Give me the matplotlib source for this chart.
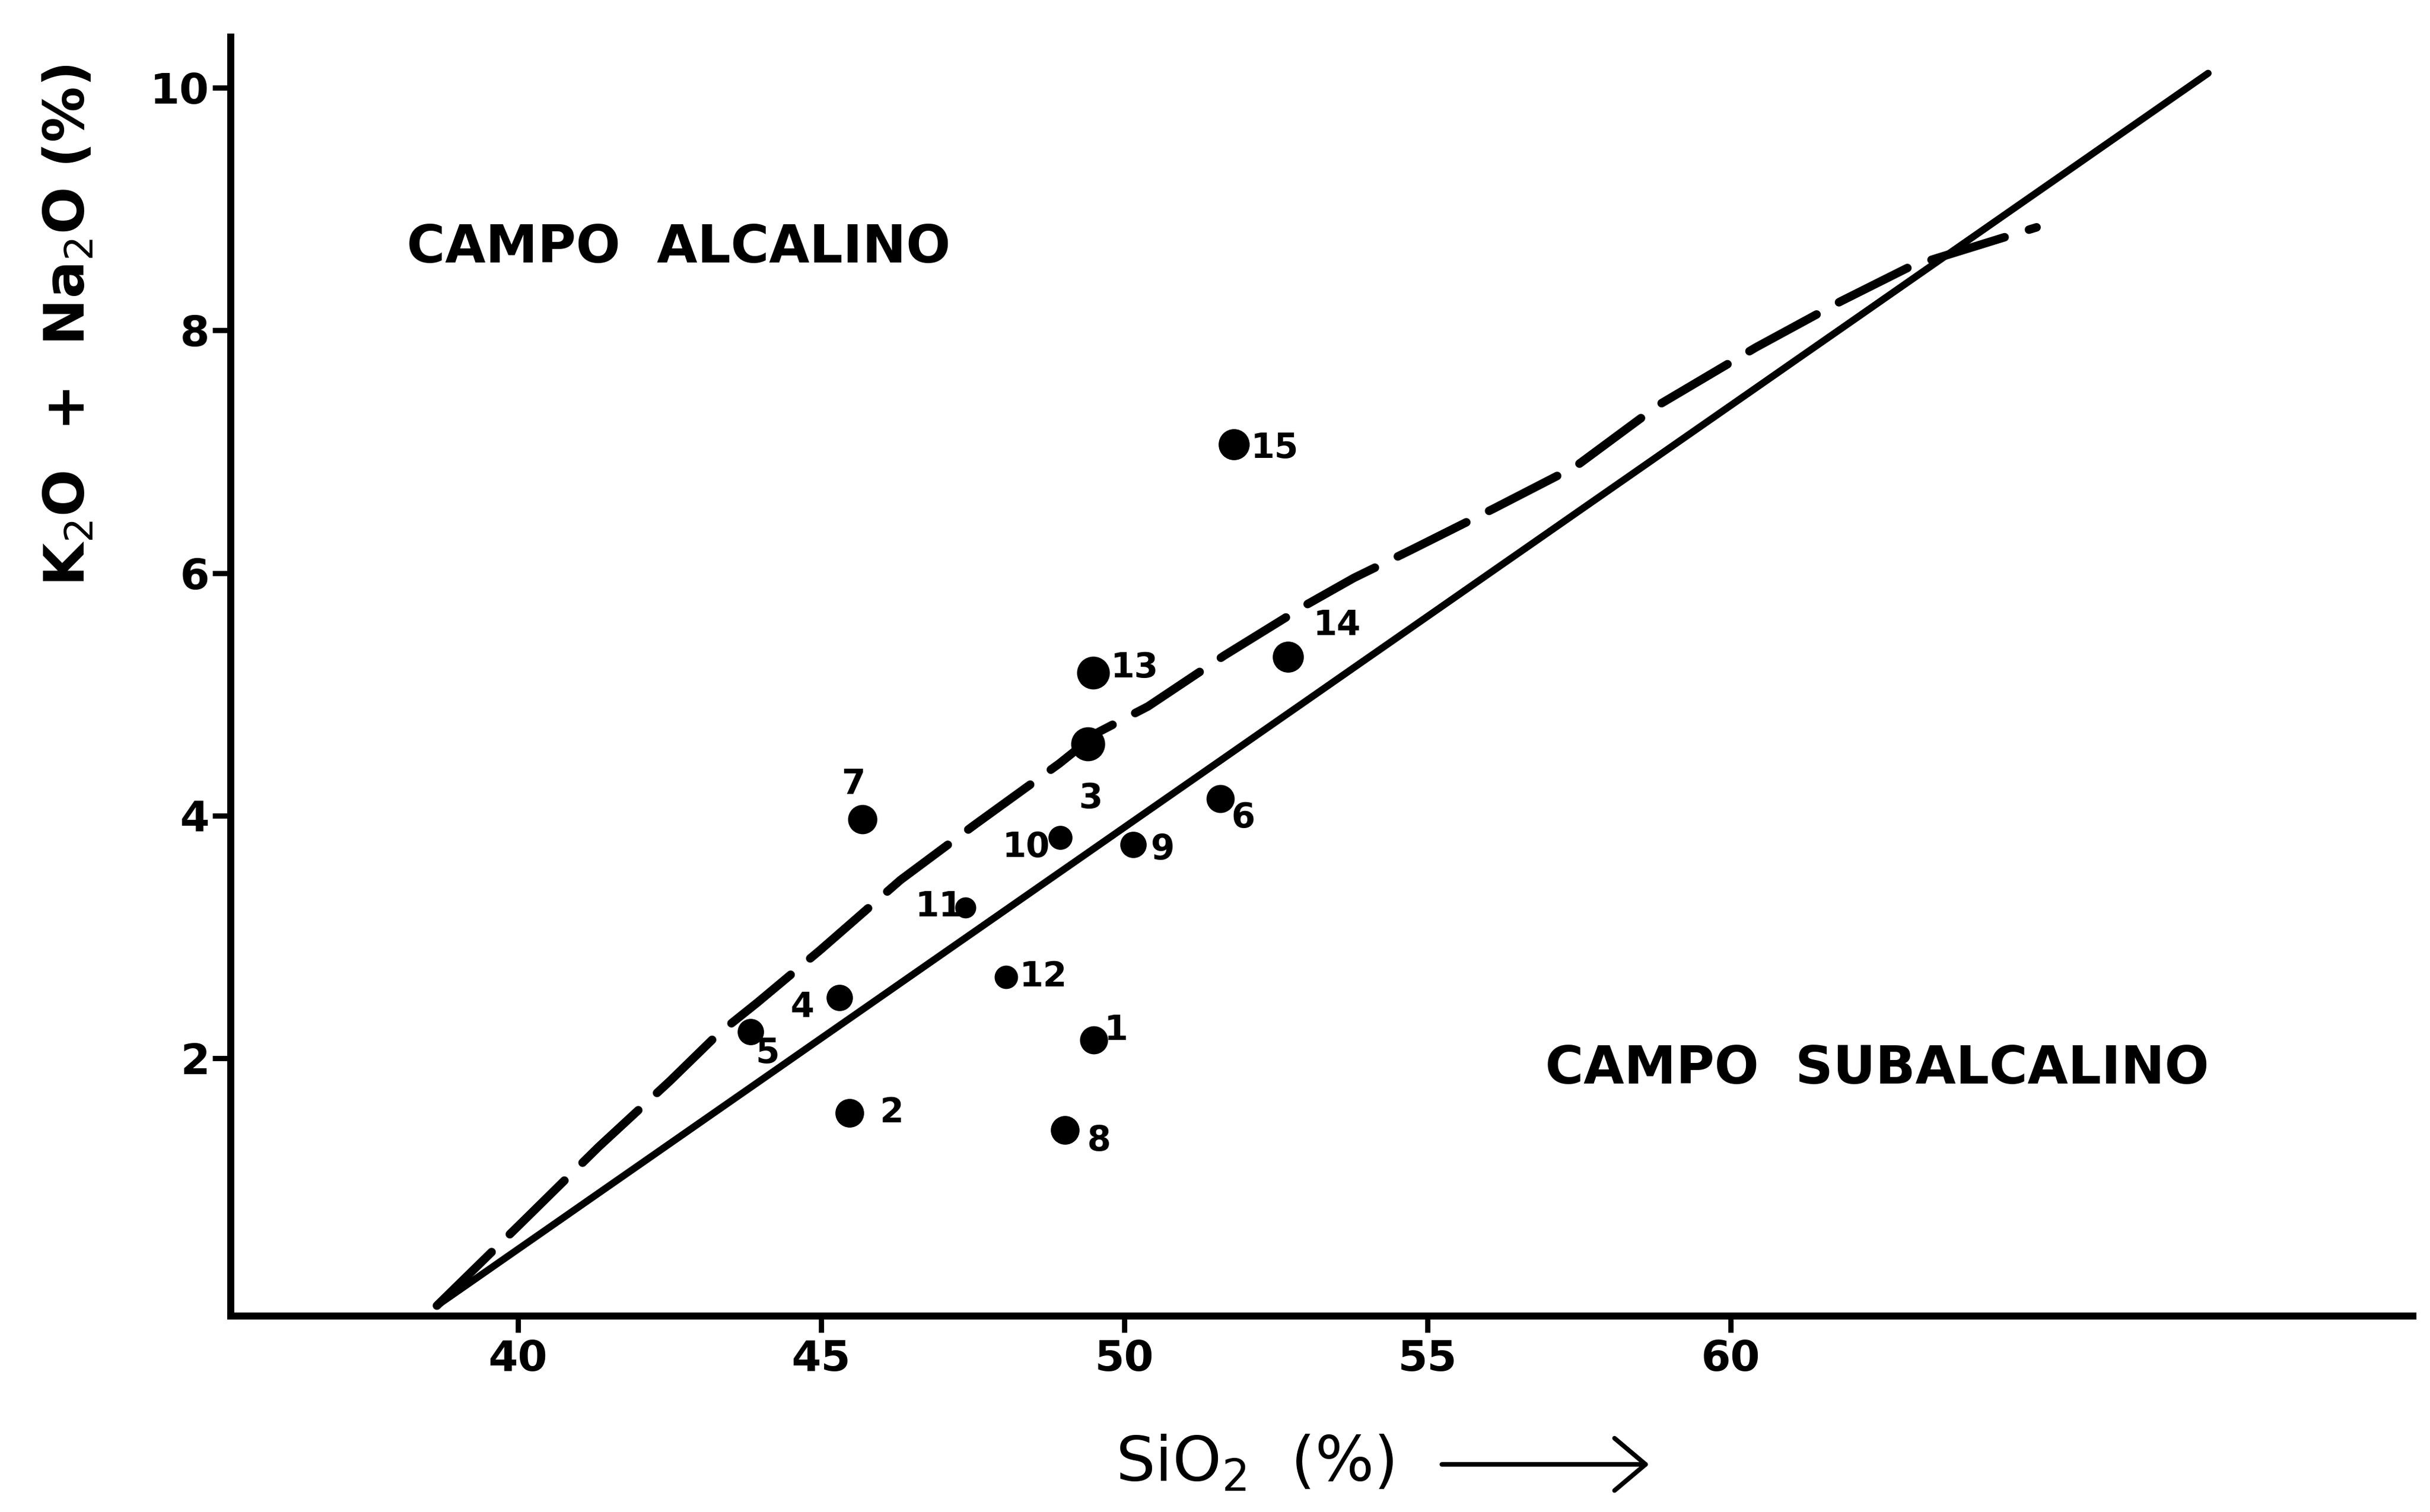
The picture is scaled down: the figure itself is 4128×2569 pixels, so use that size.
import matplotlib
matplotlib.use("Agg")
import matplotlib.pyplot as plt
from matplotlib.patches import FancyArrowPatch

# ---------------- data ----------------
sample_ids = ["1", "2", "3", "4", "5", "6", "7", "8", "9", "10", "11", "12", "13", "14", "15"]
sio2 = [49.50, 45.47, 49.40, 45.30, 43.83, 51.58, 45.68, 49.02, 50.15, 48.94, 47.38, 48.05, 49.49, 52.70, 51.81]
alkalis = [2.15, 1.55, 4.59, 2.50, 2.22, 4.14, 3.97, 1.41, 3.76, 3.82, 3.24, 2.67, 5.18, 5.31, 7.06]

# label anchor points (data coords) for each sample number
label_x = [49.86, 46.16, 49.44, 44.69, 44.11, 51.96, 45.53, 49.58, 50.63, 48.38, 46.94, 48.66, 50.17, 53.51, 52.48]
label_y = [2.23, 1.55, 4.14, 2.42, 2.04, 3.98, 4.26, 1.32, 3.72, 3.74, 3.25, 2.67, 5.22, 5.57, 7.03]

# solid dividing line (straight)
solid_x = [38.66, 67.88]
solid_y = [-0.04, 10.12]

# dashed dividing curve
dash_x = [38.66, 40.07, 41.33, 42.50, 43.30, 43.95, 44.98, 46.31, 47.52, 48.93, 49.58,
          50.39, 51.65, 53.01, 53.79, 54.73, 56.09, 57.45, 58.83, 60.42, 61.82, 62.98, 65.05]
dash_y = [-0.04, 0.65, 1.27, 1.81, 2.20, 2.46, 2.89, 3.47, 3.92, 4.43, 4.69,
          4.90, 5.32, 5.74, 5.96, 6.19, 6.53, 6.88, 7.39, 7.86, 8.24, 8.53, 8.85]

x_ticks = [40, 45, 50, 55, 60]
y_ticks = [2, 4, 6, 8, 10]

field_labels = ["CAMPO  ALCALINO", "CAMPO  SUBALCALINO"]
field_x = [38.16, 56.94]
field_y = [8.68, 1.91]

# ---------------- style ----------------
marker_px = [45, 46, 55, 42, 42, 45, 47, 46, 42, 38, 33, 37, 53, 50, 50]
DPI = 200
fig = plt.figure(figsize=(4128 / DPI, 2569 / DPI), dpi=DPI)
ax = fig.add_axes([0.095, 0.1296, 0.898, 0.846])
ax.set_xlim(35.26, 71.26)
ax.set_ylim(-0.126, 10.42)

for side in ["top", "right"]:
    ax.spines[side].set_visible(False)
for side in ["left", "bottom"]:
    ax.spines[side].set_linewidth(4.3)
    ax.spines[side].set_color("black")

ax.set_xticks(x_ticks)
ax.set_yticks(y_ticks)
ax.set_xticklabels([str(v) for v in x_ticks])
ax.set_yticklabels([str(v) for v in y_ticks])
ax.tick_params(axis="x", direction="out", length=10, width=3.2, pad=4,
               labelsize=26)
ax.tick_params(axis="y", direction="out", length=11, width=3.2, pad=2,
               labelsize=26)
for lab in ax.get_xticklabels() + ax.get_yticklabels():
    lab.set_fontweight("bold")
    lab.set_family("DejaVu Sans")

# lines
ax.plot(solid_x, solid_y, color="black", lw=4.3, solid_capstyle="round", zorder=2)
ax.plot(dash_x, dash_y, color="black", lw=5.2, dashes=(9.0, 3.0),
        dash_capstyle="round", zorder=2)

# points
for x, y, s in zip(sio2, alkalis, marker_px):
    ax.plot([x], [y], "o", color="black", markersize=s * 72 / DPI, zorder=3)

for t, x, y in zip(sample_ids, label_x, label_y):
    ax.text(x, y, t, ha="center", va="center", fontsize=21, fontweight="bold",
            family="DejaVu Sans", zorder=4)

ax.text(field_x[0], field_y[0], field_labels[0], ha="left", va="center",
        fontsize=32, fontweight="bold", family="DejaVu Sans")
ax.text(field_x[1], field_y[1], field_labels[1], ha="left", va="center",
        fontsize=32, fontweight="bold", family="DejaVu Sans")

# axis labels
fig.text(0.0285, 0.785, "K$_2$O  +  Na$_2$O (%)", rotation=90, ha="center", va="center",
         fontsize=34, family="DejaVu Sans", fontweight="bold")
fig.text(0.459, 0.0315, "SiO$_2$  (%)", ha="left", va="center", fontsize=38,
         family="DejaVu Sans")
arrow = FancyArrowPatch((0.592, 0.0315), (0.680, 0.0315), transform=fig.transFigure,
                        arrowstyle="->,head_length=0.95,head_width=0.8",
                        mutation_scale=20, lw=2.8, color="black")
fig.add_artist(arrow)

fig.savefig("out.png", dpi=DPI, facecolor="white")
